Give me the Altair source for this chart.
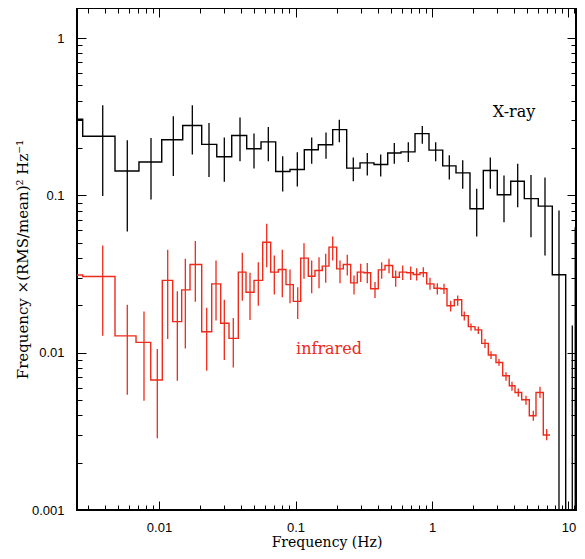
import altair as alt
import pandas as pd

# ---------------- X-ray (black) power spectrum ----------------
xray_edges = [0.0019, 0.00276, 0.00476, 0.00713, 0.01047, 0.01492, 0.02055, 0.02649,
              0.0341, 0.0439, 0.0559, 0.0716, 0.0911, 0.116, 0.1469, 0.1873, 0.2371,
              0.297, 0.3759, 0.4737, 0.5928, 0.7509, 0.9507, 1.198, 1.499, 1.898, 2.376,
              3.008, 3.773, 4.746, 6.008, 7.609, 9.539, 11.4, 13.5]
xray_freq = [0.0023, 0.003869, 0.005856, 0.008737, 0.01273, 0.01754, 0.02324, 0.03009,
             0.03921, 0.04966, 0.06321, 0.08056, 0.1031, 0.1314, 0.1673, 0.2094, 0.2651,
             0.3357, 0.4209, 0.5294, 0.6705, 0.849, 1.064, 1.339, 1.679, 2.126, 2.674,
             3.369, 4.245, 5.312, 6.727, 8.519, 10.66, 11.2]
xray_power = [0.305, 0.2376, 0.143, 0.163, 0.226, 0.278, 0.211, 0.176, 0.240, 0.198,
              0.219, 0.142, 0.146, 0.195, 0.210, 0.262, 0.149, 0.161, 0.157, 0.186,
              0.189, 0.247, 0.194, 0.154, 0.139, 0.0823, 0.144, 0.101, 0.123, 0.0953,
              0.0855, 0.0313, 0.0002, 0.0002]
xray_hi = [0.45, 0.374, 0.224, 0.232, 0.319, 0.374, 0.289, 0.233, 0.313, 0.247, 0.272,
           0.177, 0.188, 0.233, 0.251, 0.303, 0.174, 0.186, 0.182, 0.215, 0.218, 0.276,
           0.218, 0.180, 0.167, 0.110, 0.174, 0.134, 0.159, 0.135, 0.130, 0.0802,
           0.0149, 0.0628]
xray_lo = [0.2, 0.099, 0.059, 0.094, 0.133, 0.182, 0.131, 0.122, 0.165, 0.148, 0.165,
           0.106, 0.114, 0.159, 0.171, 0.218, 0.123, 0.134, 0.132, 0.159, 0.163, 0.213,
           0.165, 0.126, 0.110, 0.0548, 0.110, 0.0676, 0.0842, 0.0542, 0.0415, 0.0001,
           0.0001, 0.0001]

# ---------------- infrared (red) power spectrum ----------------
ir_edges = [0.0019, 0.00276, 0.00476, 0.006785, 0.008697, 0.01057, 0.0126, 0.01466,
            0.01687, 0.02055, 0.02432, 0.02831, 0.03257, 0.03811, 0.04339, 0.04966,
            0.05749, 0.06581, 0.07482, 0.08518, 0.09636, 0.1092, 0.1241, 0.1389, 0.1571,
            0.1759, 0.2003, 0.2239, 0.2537, 0.2836, 0.3175, 0.3556, 0.4043, 0.4524,
            0.5154, 0.576, 0.6527, 0.7294, 0.8167, 0.9145, 1.034, 1.158, 1.288, 1.457,
            1.651, 1.845, 2.065, 2.312, 2.585, 2.943, 3.296, 3.684, 4.057, 4.541, 5.162,
            5.78, 6.538, 7.317]
ir_freq = [0.0023, 0.003869, 0.005856, 0.007763, 0.009716, 0.01158, 0.01362, 0.01559,
           0.01845, 0.02236, 0.02616, 0.03009, 0.03501, 0.04076, 0.04642, 0.05339,
           0.06152, 0.06993, 0.08003, 0.09114, 0.1038, 0.1154, 0.1314, 0.1487, 0.1664,
           0.1873, 0.2118, 0.2395, 0.2683, 0.3004, 0.3357, 0.3824, 0.428, 0.4842, 0.542,
           0.61, 0.6982, 0.7723, 0.8636, 0.9668, 1.094, 1.224, 1.371, 1.543, 1.724, 1.931,
           2.184, 2.445, 2.706, 3.096, 3.485, 3.855, 4.288, 4.883, 5.523, 6.183, 6.923]
ir_power = [0.0312, 0.0305, 0.0128, 0.01163, 0.0067, 0.0288, 0.01575, 0.02507, 0.0364,
            0.0136, 0.0274, 0.01538, 0.01233, 0.0325, 0.0242, 0.0288, 0.0504, 0.0325,
            0.0338, 0.0271, 0.0212, 0.0399, 0.0306, 0.0333, 0.0355, 0.0469, 0.0341,
            0.0364, 0.0278, 0.0325, 0.0322, 0.0255, 0.0336, 0.0358, 0.0302, 0.0325,
            0.0322, 0.0314, 0.0322, 0.0274, 0.0257, 0.0255, 0.0199, 0.0217, 0.0172,
            0.01465, 0.01396, 0.01146, 0.00967, 0.00867, 0.00714, 0.00617, 0.00558,
            0.00502, 0.00397, 0.00558, 0.0030]
ir_hi = [0.045, 0.0481, 0.0202, 0.0183, 0.01056, 0.0451, 0.0246, 0.0395, 0.0512, 0.0193,
         0.0385, 0.0217, 0.01663, 0.0432, 0.0322, 0.0376, 0.0661, 0.0415, 0.0451, 0.0338,
         0.0261, 0.0497, 0.0385, 0.0405, 0.0426, 0.0548, 0.0385, 0.0419, 0.0309, 0.0367,
         0.0371, 0.0281, 0.0376, 0.0395, 0.0333, 0.0358, 0.0353, 0.0344, 0.0349, 0.0299,
         0.0276, 0.0274, 0.0214, 0.0231, 0.0183, 0.01535, 0.01465, 0.01222, 0.0102,
         0.00912, 0.0075, 0.00653, 0.00593, 0.00532, 0.00428, 0.00607, 0.00327]
ir_lo = [0.018, 0.0128, 0.0054, 0.00494, 0.00286, 0.01222, 0.00664, 0.01064, 0.0211,
         0.00768, 0.016, 0.00899, 0.00806, 0.0214, 0.01615, 0.0199, 0.0349, 0.0234,
         0.0225, 0.0206, 0.0164, 0.0295, 0.0239, 0.0257, 0.0278, 0.0385, 0.0276, 0.0309,
         0.0234, 0.0281, 0.0276, 0.0223, 0.0295, 0.032, 0.0263, 0.029, 0.029, 0.0288,
         0.0302, 0.0251, 0.0234, 0.0236, 0.0183, 0.0199, 0.016, 0.0138, 0.01316, 0.01072,
         0.00912, 0.00826, 0.00664, 0.00573, 0.00525, 0.00467, 0.00369, 0.00515, 0.00278]

# ---------------- annotations & ticks ----------------
label_text = ["X-ray", "infrared"]
label_freq = [3.99, 0.176]
label_power = [0.338, 0.0106]
label_color = ["#000000", "#ee2a1a"]

x_major = [0.01, 0.1, 1, 10]
x_minor = [0.003, 0.004, 0.005, 0.006, 0.007, 0.008, 0.009,
           0.02, 0.03, 0.04, 0.05, 0.06, 0.07, 0.08, 0.09,
           0.2, 0.3, 0.4, 0.5, 0.6, 0.7, 0.8, 0.9,
           2, 3, 4, 5, 6, 7, 8, 9, 11]
y_major = [0.001, 0.01, 0.1, 1]
y_minor = [0.002, 0.003, 0.004, 0.005, 0.006, 0.007, 0.008, 0.009,
           0.02, 0.03, 0.04, 0.05, 0.06, 0.07, 0.08, 0.09,
           0.2, 0.3, 0.4, 0.5, 0.6, 0.7, 0.8, 0.9]

RED = "#ee2a1a"
BLACK = "#000000"
SERIF = "DejaVu Serif"
SANS = "Liberation Sans"


def step_table(edges, power):
    rows = [{"f": e, "p": p} for e, p in zip(edges[:-1], power)]
    rows.append({"f": edges[-1], "p": power[-1]})
    return pd.DataFrame(rows)


def err_table(freq, lo, hi):
    return pd.DataFrame({"f": freq, "lo": lo, "hi": hi})


xs = alt.Scale(type="log", domain=[0.002507, 11.35], nice=False)
ys = alt.Scale(type="log", domain=[0.001, 1.553], nice=False)

MAJ = 9
MIN = 5


def axis(orient, values, size, labels=False, title=None, pad=0, tpad=0, tsize=15):
    kw = dict(orient=orient, values=values, tickSize=size, offset=-size,
              domain=False, grid=False, ticks=True, tickColor="black",
              tickWidth=1, labels=labels, title=title)
    if labels:
        kw.update(format="~g", labelFont=SANS, labelFontSize=13,
                  labelColor="black", labelPadding=pad, labelFlush=False,
                  labelOverlap=False)
    if title is not None:
        kw.update(titleFont=SERIF, titleFontSize=tsize, titleFontWeight="normal",
                  titleColor="black", titlePadding=tpad)
    return alt.Axis(**kw)


xray_step = alt.Chart(step_table(xray_edges, xray_power)).mark_line(
    interpolate="step-after", color=BLACK, strokeWidth=1.4, clip=True
).encode(
    x=alt.X("f:Q", scale=xs,
            axis=axis("bottom", x_major, MAJ, labels=True, title="Frequency (Hz)",
                      pad=11, tpad=1, tsize=14)),
    y=alt.Y("p:Q", scale=ys,
            axis=axis("left", y_major, MAJ, labels=True,
                      title="Frequency ×(RMS/mean)² Hz⁻¹", pad=13, tpad=1)),
)

xray_err = alt.Chart(err_table(xray_freq, xray_lo, xray_hi)).mark_rule(
    color=BLACK, strokeWidth=1.3, clip=True
).encode(
    x=alt.X("f:Q", scale=xs, axis=axis("bottom", x_minor, MIN)),
    y=alt.Y("lo:Q", scale=ys, axis=axis("left", y_minor, MIN)),
    y2="hi:Q",
)

ir_step = alt.Chart(step_table(ir_edges, ir_power)).mark_line(
    interpolate="step-after", color=RED, strokeWidth=1.4, clip=True
).encode(
    x=alt.X("f:Q", scale=xs, axis=axis("top", x_major, MAJ)),
    y=alt.Y("p:Q", scale=ys, axis=axis("right", y_major, MAJ)),
)

ir_err = alt.Chart(err_table(ir_freq, ir_lo, ir_hi)).mark_rule(
    color=RED, strokeWidth=1.3, clip=True
).encode(
    x=alt.X("f:Q", scale=xs, axis=axis("top", x_minor, MIN)),
    y=alt.Y("lo:Q", scale=ys, axis=axis("right", y_minor, MIN)),
    y2="hi:Q",
)

labels = alt.Chart(pd.DataFrame({"t": label_text, "f": label_freq, "p": label_power,
                                 "c": label_color})).mark_text(
    font=SERIF, fontSize=16, align="center", baseline="middle"
).encode(
    x=alt.X("f:Q", scale=xs, axis=None),
    y=alt.Y("p:Q", scale=ys, axis=None),
    text="t:N",
    color=alt.Color("c:N", scale=None),
)

chart = alt.layer(xray_step, xray_err, ir_step, ir_err, labels).resolve_axis(
    x="independent", y="independent"
).properties(
    width=499, height=502,
    autosize=alt.AutoSizeParams(type="none"),
    padding={"left": 69, "top": 0, "right": 1, "bottom": 41},
    background="white",
).configure_view(stroke="black", strokeWidth=2)

chart.save("out.html", embed_options={"renderer": "svg", "actions": False})
